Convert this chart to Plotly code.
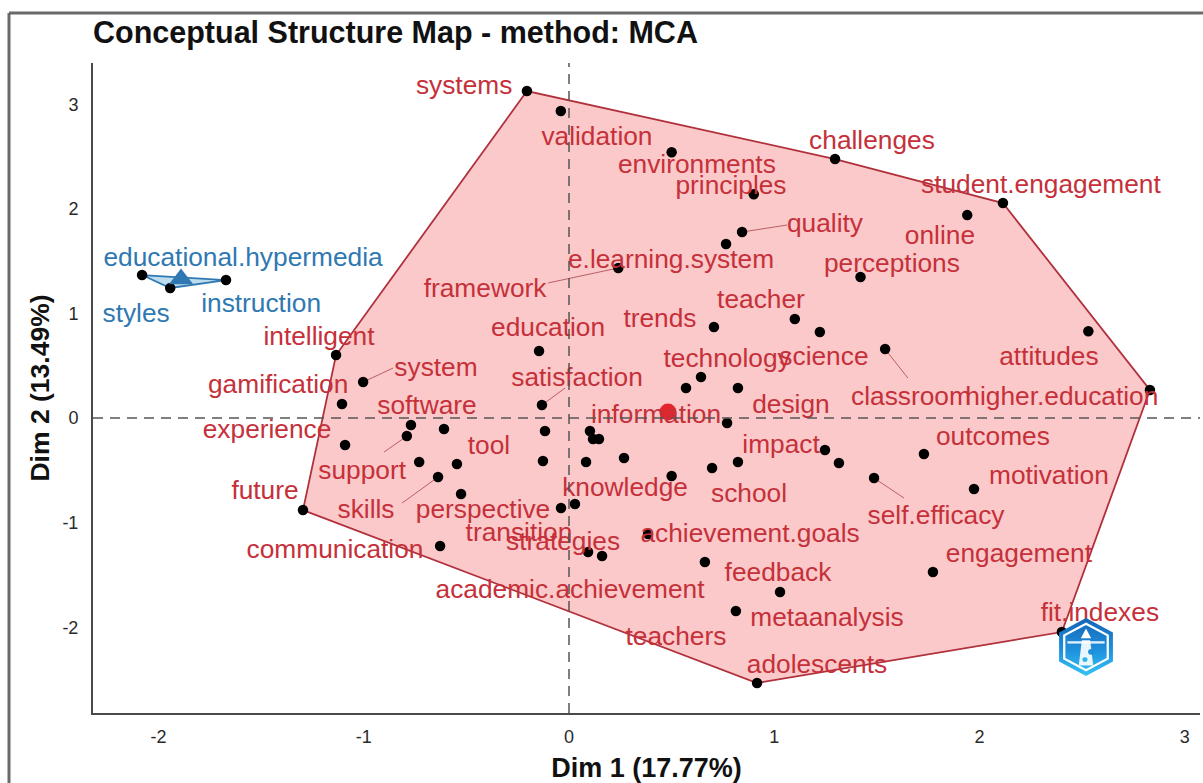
import base64
import plotly.graph_objects as go

# ---------- data ----------
point_x = [-0.205, -0.04, 0.50, 1.296, 0.90, 2.114, 1.94, 0.843, 0.765, 0.24, 1.42, 2.53, 2.83,
           1.10, 1.222, 0.706, 1.54, -0.146, -1.135, -1.003, -1.106, 0.643, 0.57, 0.823, -0.132,
           0.77, -0.77, -0.79, -0.609, -1.091, -0.117, 0.102, 0.117, 0.146, 1.247, 1.315, 1.729,
           0.268, -0.127, 0.083, -0.73, -0.546, 0.823, 0.697, 0.50, -0.638, -0.526, 1.486, 1.973,
           -0.039, 0.029, -1.296, 0.385, -0.628, 0.093, 0.161, 0.662, 1.773, 1.028, 0.813, 2.401, 0.916]
point_y = [3.126, 2.935, 2.54, 2.476, 2.14, 2.055, 1.94, 1.778, 1.663, 1.434, 1.348, 0.83, 0.268,
           0.946, 0.822, 0.87, 0.66, 0.64, 0.602, 0.344, 0.134, 0.392, 0.287, 0.287, 0.124,
           -0.048, -0.067, -0.172, -0.105, -0.258, -0.124, -0.124, -0.2, -0.2, -0.306, -0.43, -0.344,
           -0.382, -0.411, -0.42, -0.42, -0.44, -0.42, -0.478, -0.555, -0.564, -0.727, -0.574, -0.679,
           -0.86, -0.822, -0.88, -1.109, -1.224, -1.281, -1.319, -1.377, -1.472, -1.663, -1.845, -2.046, -2.533]

label_words = ["systems", "validation", "environments", "challenges", "principles", "student.engagement",
               "online", "quality", "e.learning.system", "framework", "perceptions", "attitudes",
               "higher.education", "teacher", "science", "trends", "classroom", "education", "intelligent",
               "system", "gamification", "technology", "design", "satisfaction", "information", "experience",
               "software", "support", "tool", "impact", "outcomes", "motivation", "future", "skills",
               "perspective", "knowledge", "school", "self.efficacy", "transition", "strategies",
               "achievement.goals", "communication", "engagement", "academic.achievement", "feedback",
               "metaanalysis", "teachers", "adolescents", "fit.indexes"]
label_x = [-0.511, 0.136, 0.623, 1.476, 0.789, 2.299, 1.807, 1.247, 0.497, -0.409, 1.573, 2.338,
           2.401, 0.935, 1.242, 0.443, 1.666, -0.102, -1.218, -0.648, -1.417, 0.770, 1.081, 0.039,
           0.424, -1.471, -0.692, -1.008, -0.390, 1.033, 2.065, 2.338, -1.481, -0.989, -0.419, 0.273,
           0.877, 1.788, -0.244, -0.029, 0.882, -1.140, 2.192, 0.005, 1.018, 1.257, 0.521, 1.208, 2.586]
label_y = [3.164, 2.676, 2.408, 2.638, 2.208, 2.217, 1.730, 1.844, 1.500, 1.223, 1.462, 0.573,
           0.190, 1.118, 0.573, 0.936, 0.190, 0.850, 0.764, 0.468, 0.305, 0.554, 0.114, 0.372,
           0.018, -0.125, 0.104, -0.517, -0.278, -0.269, -0.192, -0.565, -0.708, -0.890, -0.890, -0.680,
           -0.737, -0.947, -1.110, -1.196, -1.119, -1.272, -1.311, -1.655, -1.492, -1.922, -2.104, -2.372, -1.875]

# connector segments: point end, label end
seg_x0 = [0.843, 0.239, -1.003, -0.132, -0.789, -0.638, 1.539, 1.486]
seg_y0 = [1.778, 1.434, 0.344, 0.124, -0.172, -0.564, 0.660, -0.574]
seg_x1 = [1.062, -0.102, -0.857, -0.019, -0.901, -0.813, 1.651, 1.632]
seg_y1 = [1.845, 1.291, 0.478, 0.287, -0.325, -0.813, 0.382, -0.765]

blue_x = [-2.08, -1.943, -1.671]
blue_y = [1.367, 1.243, 1.319]
blue_words = ["educational.hypermedia", "styles", "instruction"]
blue_label_x = [-1.588, -2.109, -1.500]
blue_label_y = [1.519, 0.984, 1.079]

centroid_red = (0.482, 0.057)
centroid_blue = (-1.89, 1.329)
x_ticks = [-2, -1, 0, 1, 2, 3]
y_ticks = [-2, -1, 0, 1, 2, 3]
x_tick_text = ["-2", "-1", "0", "1", "2", "3"]
y_tick_text = ["-2", "-1", "0", "1", "2", "3"]

# ---------- styles ----------
RED_TEXT = "#C5303A"
RED_EDGE = "#B0303C"
RED_FILL = "#FBC9C9"
RED_DOT = "#E2262B"
BLUE = "#2F78B2"
BLUE_FILL = "#BBDDEE"
FONT = "Liberation Sans, Arial, sans-serif"
W, H = 1203, 783
L, R, T, B = 93, 3, 63, 70
PW, PH = W - L - R, H - T - B


def paper_x(px):
    return (px - L) / PW


def paper_y(py):
    return 1 - (py - T) / PH


def hull(xs, ys):
    pts = sorted(set(zip(xs, ys)))

    def cross(o, a, b):
        return (a[0] - o[0]) * (b[1] - o[1]) - (a[1] - o[1]) * (b[0] - o[0])

    lower, upper = [], []
    for p in pts:
        while len(lower) > 1 and cross(lower[-2], lower[-1], p) <= 0:
            lower.pop()
        lower.append(p)
    for p in reversed(pts):
        while len(upper) > 1 and cross(upper[-2], upper[-1], p) <= 0:
            upper.pop()
        upper.append(p)
    ring = lower[:-1] + upper[:-1]
    ring.append(ring[0])
    return [p[0] for p in ring], [p[1] for p in ring]


fig = go.Figure()

hx, hy = hull(point_x, point_y)
fig.add_trace(go.Scatter(x=hx, y=hy, mode="lines", fill="toself", fillcolor=RED_FILL,
                         line=dict(color=RED_EDGE, width=1.8), hoverinfo="skip"))
bhx, bhy = hull(blue_x, blue_y)
fig.add_trace(go.Scatter(x=bhx, y=bhy, mode="lines", fill="toself", fillcolor=BLUE_FILL,
                         line=dict(color=BLUE, width=1.8), hoverinfo="skip"))

# connectors
sx, sy = [], []
for a, b, c, d in zip(seg_x0, seg_y0, seg_x1, seg_y1):
    sx += [a, c, None]
    sy += [b, d, None]
fig.add_trace(go.Scatter(x=sx, y=sy, mode="lines", line=dict(color="#A8424C", width=0.8), hoverinfo="skip"))

# points
fig.add_trace(go.Scatter(x=point_x + blue_x, y=point_y + blue_y, mode="markers",
                         marker=dict(color="black", size=10.5)))
fig.add_trace(go.Scatter(x=[centroid_red[0]], y=[centroid_red[1]], mode="markers",
                         marker=dict(color=RED_DOT, size=17, symbol="circle")))
fig.add_trace(go.Scatter(x=[centroid_blue[0]], y=[centroid_blue[1]], mode="markers",
                         marker=dict(color=BLUE, size=21, symbol="triangle-up")))

# labels
fig.add_trace(go.Scatter(x=label_x, y=label_y, text=label_words, mode="text", textposition="middle center",
                         textfont=dict(color=RED_TEXT, size=26.3, family=FONT)))
fig.add_trace(go.Scatter(x=blue_label_x, y=blue_label_y, text=blue_words, mode="text", textposition="middle center",
                         textfont=dict(color=BLUE, size=26.3, family=FONT)))

GREY = "#4A4A4A"
shapes = [
    dict(type="line", xref="x", yref="paper", x0=0, x1=0, y0=0, y1=1, layer="above",
         line=dict(color="#555555", width=1.5, dash="10px,7px")),
    dict(type="line", xref="paper", yref="y", x0=0, x1=1, y0=0, y1=0, layer="above",
         line=dict(color="#555555", width=1.5, dash="10px,7px")),
    # outer frame of the screenshot
    dict(type="line", xref="paper", yref="paper", x0=paper_x(9), x1=paper_x(9), y0=paper_y(13), y1=paper_y(783),
         line=dict(color="#6A6A6A", width=3)),
    dict(type="line", xref="paper", yref="paper", x0=paper_x(9), x1=paper_x(1203), y0=paper_y(13), y1=paper_y(13),
         line=dict(color="#6A6A6A", width=3)),
]

logo_svg = """<svg xmlns='http://www.w3.org/2000/svg' viewBox='0 0 56 62'>
<defs><linearGradient id='g' x1='0' y1='0' x2='0' y2='1'>
<stop offset='0' stop-color='#1565B8'/><stop offset='0.55' stop-color='#1E90DC'/><stop offset='1' stop-color='#35C4F4'/>
</linearGradient></defs>
<polygon points='28,1 54,16 54,46 28,61 2,46 2,16' fill='url(#g)'/>
<polygon points='28,7 49,19 49,43 28,55 7,43 7,19' fill='none' stroke='white' stroke-width='2.2'/>
<polygon points='24,24 32,24 35,50 21,50' fill='white' opacity='0.9'/>
<polygon points='28,12 33,22 23,22' fill='white'/>
<rect x='10' y='25' width='36' height='2.5' fill='white' opacity='0.85'/>
<circle cx='33' cy='36' r='3' fill='#1E90DC'/><circle cx='27' cy='44' r='2.5' fill='#35B4EC'/>
</svg>"""
logo_src = "data:image/svg+xml;base64," + base64.b64encode(logo_svg.encode()).decode()

fig.update_layout(
    width=W, height=H, autosize=False, showlegend=False,
    margin=dict(l=L, r=R, t=T, b=B, pad=0),
    paper_bgcolor="white", plot_bgcolor="white",
    hovermode=False,
    title=dict(text="<b>Conceptual Structure Map - method: MCA</b>", x=93 / W, xanchor="left",
               y=1 - 32 / H, yanchor="middle", font=dict(family=FONT, size=30.5, color="#111111")),
    shapes=shapes,
    images=[dict(source=logo_src, xref="paper", yref="paper", x=paper_x(1057), y=paper_y(617),
                 sizex=58 / PW, sizey=60 / PH, sizing="stretch", xanchor="left", yanchor="top", layer="above")],
)
fig.update_xaxes(range=[-2.319, 3.074], tickvals=x_ticks, ticktext=x_tick_text, ticks="", showgrid=False, zeroline=False,
                 showline=True, linecolor=GREY, linewidth=2, ticklabelstandoff=6,
                 tickfont=dict(family=FONT, size=18, color="#2A2A2A"),
                 title=dict(text="<b>Dim 1 (17.77%)</b>", font=dict(family=FONT, size=27, color="#111111"), standoff=14))
fig.update_yaxes(range=[-2.82, 3.394], tickvals=y_ticks, ticktext=y_tick_text, ticks="", showgrid=False, zeroline=False,
                 showline=True, linecolor=GREY, linewidth=2, ticklabelstandoff=9,
                 tickfont=dict(family=FONT, size=18, color="#2A2A2A"),
                 title=dict(text="<b>Dim 2 (13.49%)</b>", font=dict(family=FONT, size=26.5, color="#111111"), standoff=5))

fig.write_html("out.html", config=dict(displayModeBar=False), post_script="document.body.style.margin='0';")
